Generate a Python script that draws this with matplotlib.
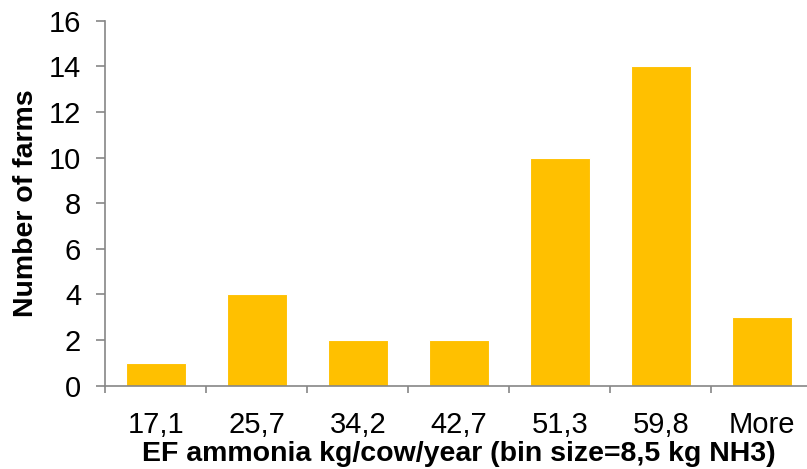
import matplotlib.pyplot as plt
import numpy as np

# bins (upper edges, kg NH3/cow/year) and farm counts
bins = ['17,1', '25,7', '34,2', '42,7', '51,3', '59,8', 'More']
farms = [1, 4, 2, 2, 10, 14, 3]

plt.rcParams['font.family'] = ['Liberation Sans', 'DejaVu Sans']

fig = plt.figure(figsize=(8.07, 4.69), dpi=100)
ax = fig.add_axes([0.1307, 0.1776, 0.8761, 0.7783])

x = np.arange(len(bins))
ax.bar(x, farms, width=0.59, color='#FFC000', edgecolor='white', linewidth=0.8, zorder=2)

ax.set_xlim(-0.5, len(bins) - 0.5)
ax.set_ylim(0, 16)
ax.set_yticks(range(0, 17, 2))
ax.set_xticks(x)
ax.set_xticklabels(bins)
ax.set_xticks(np.arange(-0.5, len(bins), 1), minor=True)

for s in ['top', 'right']:
    ax.spines[s].set_visible(False)
for s in ['left', 'bottom']:
    ax.spines[s].set_color('#868686')
    ax.spines[s].set_linewidth(1.2)

ax.tick_params(axis='y', direction='out', length=6.5, width=1.2, color='#868686',
               labelsize=21, pad=11)
ax.tick_params(axis='x', which='major', length=0, labelsize=21, pad=18)
ax.tick_params(axis='x', which='minor', direction='out', length=5, width=1.2, color='#868686')

ax.set_xlabel('EF ammonia kg/cow/year (bin size=8,5 kg NH3)', fontsize=20.5,
              fontweight='bold', labelpad=2)
ax.set_ylabel('Number of farms', fontsize=20.5, fontweight='bold', labelpad=7)

fig.savefig('out.png', dpi=100)
